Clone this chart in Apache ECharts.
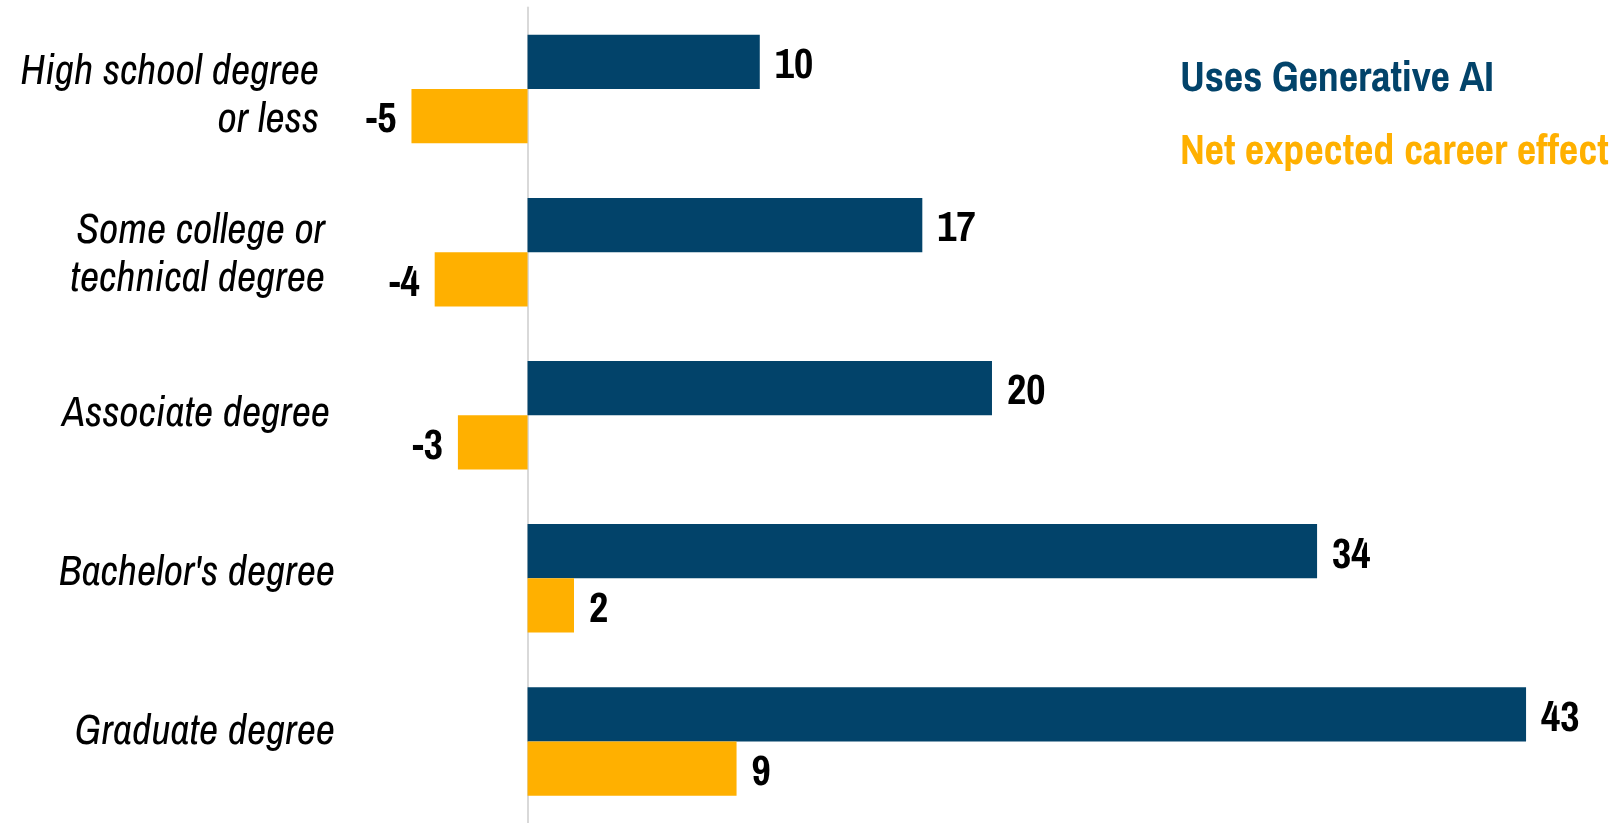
<!DOCTYPE html>
<html>
<head>
<meta charset="utf-8">
<script src="https://cdn.jsdelivr.net/npm/echarts@6/dist/echarts.min.js"></script>
<style>
  html, body { margin: 0; padding: 0; background: #ffffff; }
  #chart { width: 1619px; height: 823px; }
</style>
</head>
<body>
<div id="chart"></div>
<script>
// Education levels, top to bottom
const categories = [
  'High school degree\nor less',
  'Some college or\ntechnical degree',
  'Associate degree',
  "Bachelor's degree",
  'Graduate degree'
];
// Share using generative AI (percentage points)
const usesGenAI = [10, 17, 20, 34, 43];
// Net expected career effect (percentage points)
const careerEffect = [-5, -4, -3, 2, 9];
const seriesNames = ['Uses Generative AI', 'Net expected career effect'];

const NAVY = '#02436A';
const GOLD = '#FFB000';
const FONT = '"Archivo Narrow", "Roboto Condensed", "Liberation Sans", sans-serif';

// small per-row nudge of the category captions
const captionShift = [16, 10, 5, 0, 0];

function barData(values) {
  return values.map(v => ({
    value: v,
    label: { position: v < 0 ? 'left' : 'right' }
  }));
}

const valueLabel = {
  show: true,
  distance: 15,
  offset: [0, 5],
  fontFamily: FONT,
  fontWeight: 'bold',
  fontSize: 42,
  color: '#000000'
};

const chart = echarts.init(document.getElementById('chart'), null, { renderer: 'canvas' });

chart.setOption({
  animation: false,
  backgroundColor: '#ffffff',
  legend: {
    orient: 'vertical',
    left: 1170,
    top: 54,
    itemGap: 31,
    itemWidth: 0,
    itemHeight: 0,
    selectedMode: false,
    data: [
      { name: seriesNames[0], icon: 'none', textStyle: { color: NAVY } },
      { name: seriesNames[1], icon: 'none', textStyle: { color: GOLD } }
    ],
    textStyle: { fontFamily: FONT, fontWeight: 'bold', fontSize: 42, lineHeight: 42 }
  },
  grid: [
    { left: 341.8, width: 1230.7, top: 7.5, height: 820 },
    { left: 347, width: 10, top: 17.6, height: 794.4 }
  ],
  xAxis: [
    { type: 'value', gridIndex: 0, min: -8, max: 45, show: false },
    { type: 'value', gridIndex: 1, show: false }
  ],
  yAxis: [
    {
      type: 'category',
      gridIndex: 0,
      inverse: true,
      data: categories,
      axisLine: { show: true, onZero: true, lineStyle: { color: '#d9d9d9', width: 2 } },
      axisTick: { show: false },
      axisLabel: { show: false },
      splitLine: { show: false }
    },
    {
      type: 'category',
      gridIndex: 1,
      inverse: true,
      data: categories.map((c, i) => ({
        value: c,
        textStyle: { padding: [0, captionShift[i], 0, 0] }
      })),
      axisLine: { show: false },
      axisTick: { show: false },
      splitLine: { show: false },
      axisLabel: {
        margin: 12,
        fontFamily: FONT,
        fontStyle: 'italic',
        fontSize: 42,
        lineHeight: 48,
        color: '#000000',
        align: 'right'
      }
    }
  ],
  series: [
    {
      name: seriesNames[0],
      type: 'bar',
      xAxisIndex: 0,
      yAxisIndex: 0,
      data: barData(usesGenAI),
      itemStyle: { color: NAVY },
      barGap: '0%',
      barCategoryGap: '33.5%',
      label: valueLabel
    },
    {
      name: seriesNames[1],
      type: 'bar',
      xAxisIndex: 0,
      yAxisIndex: 0,
      data: barData(careerEffect),
      itemStyle: { color: GOLD },
      barGap: '0%',
      barCategoryGap: '33.5%',
      label: valueLabel
    }
  ]
});
</script>
</body>
</html>
